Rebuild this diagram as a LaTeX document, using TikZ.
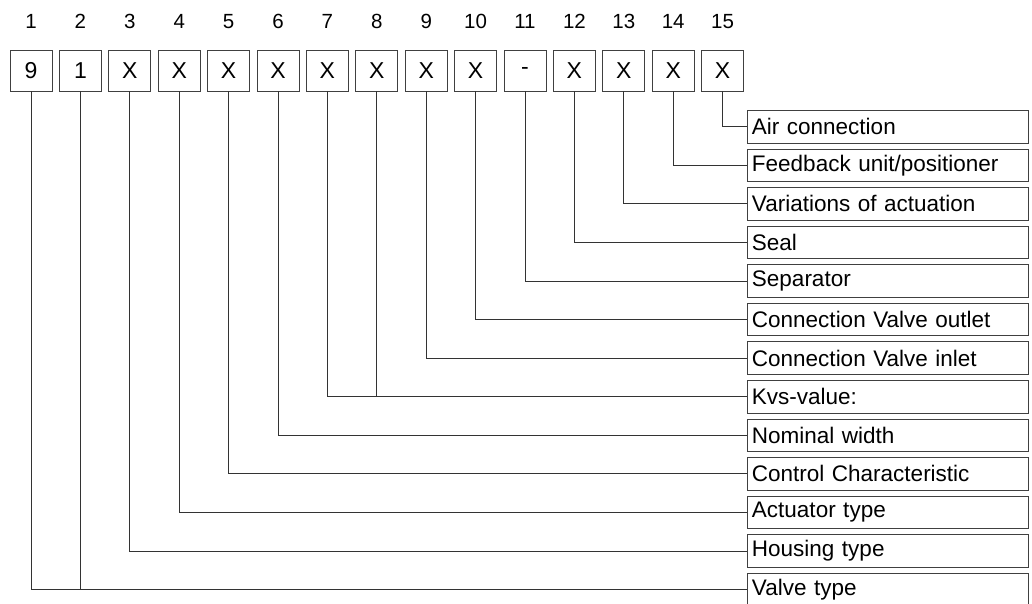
\documentclass[tikz,border=0pt]{standalone}
\usepackage{fontspec}
\setmainfont{Liberation Sans}
\begin{document}
\begin{tikzpicture}[x=1pt,y=-1pt,
  ln/.style={line width=0.9pt,draw=black!80},
  digit/.style={draw=black!75,line width=0.9pt,minimum width=42pt,minimum height=41pt,inner sep=0pt,font=\fontsize{23}{26}\selectfont},
  num/.style={inner sep=0pt,font=\fontsize{20.5}{24}\selectfont},
  lab/.style={draw=black!75,line width=0.9pt,anchor=north west,minimum width=281pt,minimum height=32.5pt,text width=272pt,inner xsep=4.5pt,inner ysep=0pt,align=left,font=\fontsize{22.5}{26}\selectfont}]
\useasboundingbox (0,0) rectangle (1032,603);
% top boxes
\foreach \i/\t in {1/9,2/1,3/X,4/X,5/X,6/X,7/X,8/X,9/X,10/X,11/-,12/X,13/X,14/X,15/X}{
  \pgfmathsetmacro\cx{31+49.4*(\i-1)}
  \node[digit] (b\i) at (\cx,70.5) {\t};
  \node[num] (n\i) at (\cx,21.5) {\i};
}
% labels
\foreach \k/\t in {0/Air connection,1/Feedback unit\slash positioner,2/Variations of actuation,3/Seal,4/Separator,5/Connection Valve outlet,6/Connection Valve inlet,7/Kvs-value:,8/Nominal width,9/Control Characteristic,10/Actuator type,11/Housing type,12/Valve type}{
  \pgfmathsetmacro\ty{110+38.58*\k}
  \node[lab] (l\k) at (747,\ty) {\t};
}
% connectors
\foreach \i/\k in {15/0,14/1,13/2,12/3,11/4,10/5,9/6,7/7,6/8,5/9,4/10,3/11,1/12}{
  \draw[ln] (b\i.south) |- (l\k.west);
}
\draw[ln] (b8.south) -- (b8.south |- l7.west);
\draw[ln] (b2.south) -- (b2.south |- l12.west);
\end{tikzpicture}
\end{document}
